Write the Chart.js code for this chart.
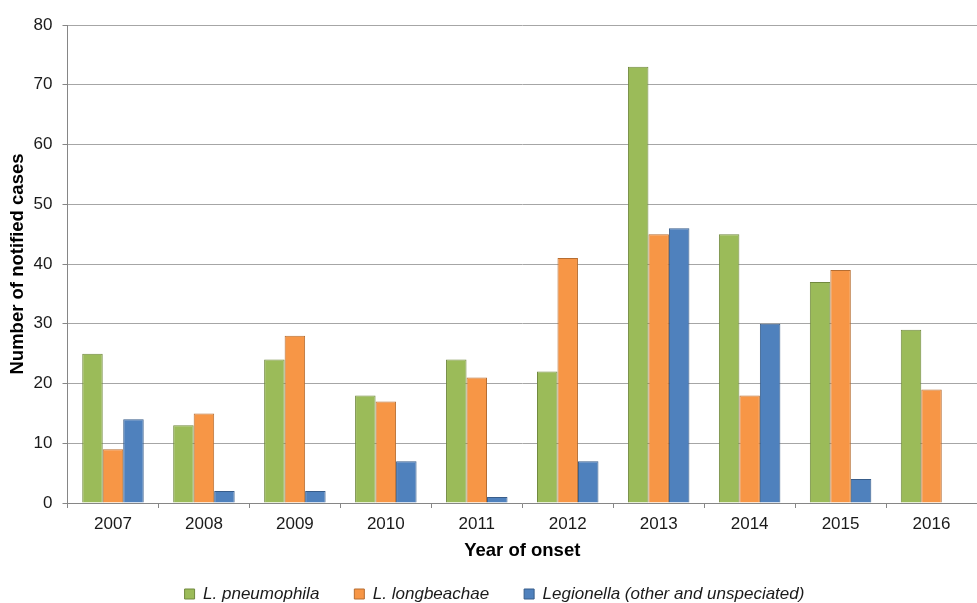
<!DOCTYPE html>
<html>
<head>
<meta charset="utf-8">
<title>Legionellosis notifications by species, 2007–2016</title>
<script src="https://cdn.jsdelivr.net/npm/chart.js@4/dist/chart.umd.min.js"></script>
<style>
  html, body { margin: 0; padding: 0; background: #ffffff; }
  canvas { display: block; }
</style>
</head>
<body>
<canvas id="chart" width="977" height="603"></canvas>
<script>
// Year of onset (categories)
const years = ['2007', '2008', '2009', '2010', '2011', '2012', '2013', '2014', '2015', '2016'];

// Notified cases per species
const pneumophila = [25, 13, 24, 18, 24, 22, 73, 45, 37, 29];
const longbeachae = [9, 15, 28, 17, 21, 41, 45, 18, 39, 19];
const otherLegionella = [14, 2, 2, 7, 1, 7, 46, 30, 4, 0];

// Series names
const seriesNames = ['L. pneumophila', 'L. longbeachae', 'Legionella (other and unspeciated)'];

// Y-axis range
const yMin = 0;
const yMax = 80;
const yStep = 10;

const FONT = '"Liberation Sans", Arial, Helvetica, sans-serif';
const AXIS_GREY = '#868686';
const GRID_GREY = '#a6a6a6';

Chart.defaults.font.family = FONT;
Chart.defaults.color = '#1a1a1a';

new Chart(document.getElementById('chart'), {
  type: 'bar',
  data: {
    labels: years,
    datasets: [
      {
        label: seriesNames[0],
        data: pneumophila,
        backgroundColor: '#9bbb59',
        borderColor: '#71893f',
        borderWidth: 1
      },
      {
        label: seriesNames[1],
        data: longbeachae,
        backgroundColor: '#f79646',
        borderColor: '#b66d31',
        borderWidth: 1
      },
      {
        label: seriesNames[2],
        data: otherLegionella,
        backgroundColor: '#4f81bd',
        borderColor: '#385d8a',
        borderWidth: 1
      }
    ]
  },
  options: {
    responsive: false,
    animation: false,
    devicePixelRatio: 1,
    layout: {
      padding: { left: 0, right: -12, top: 25, bottom: -9.5 }
    },
    datasets: {
      bar: {
        categoryPercentage: 0.676,
        barPercentage: 1.0
      }
    },
    scales: {
      x: {
        grid: {
          display: true,
          drawOnChartArea: false,
          drawTicks: true,
          tickLength: 5,
          color: AXIS_GREY,
          offset: true
        },
        border: { display: true, color: AXIS_GREY, width: 1 },
        ticks: {
          font: { size: 17 },
          color: '#1a1a1a',
          padding: 6.5,
          maxRotation: 0
        },
        title: {
          display: true,
          text: 'Year of onset',
          font: { size: 18.5, weight: 'bold' },
          color: '#000000',
          padding: { top: 0, bottom: -11.5 }
        },
        afterFit(scale) { scale.height = 47.5; }
      },
      y: {
        min: yMin,
        max: yMax,
        ticks: {
          stepSize: yStep,
          font: { size: 17 },
          color: '#1a1a1a',
          padding: 10
        },
        grid: {
          color: GRID_GREY,
          tickColor: AXIS_GREY,
          tickLength: 5,
          drawTicks: true
        },
        border: { display: true, color: AXIS_GREY, width: 1 },
        title: {
          display: true,
          text: 'Number of notified cases',
          font: { size: 18.5, weight: 'bold' },
          color: '#000000',
          padding: { top: 7, bottom: 0 }
        },
        afterFit(scale) { scale.width = 67.5; }
      }
    },
    plugins: {
      legend: {
        display: true,
        position: 'bottom',
        labels: {
          boxWidth: 10,
          boxHeight: 10,
          padding: 35,
          color: '#1a1a1a',
          font: { size: 17, style: 'italic' }
        }
      },
      tooltip: { enabled: false }
    }
  }
});
</script>
</body>
</html>
